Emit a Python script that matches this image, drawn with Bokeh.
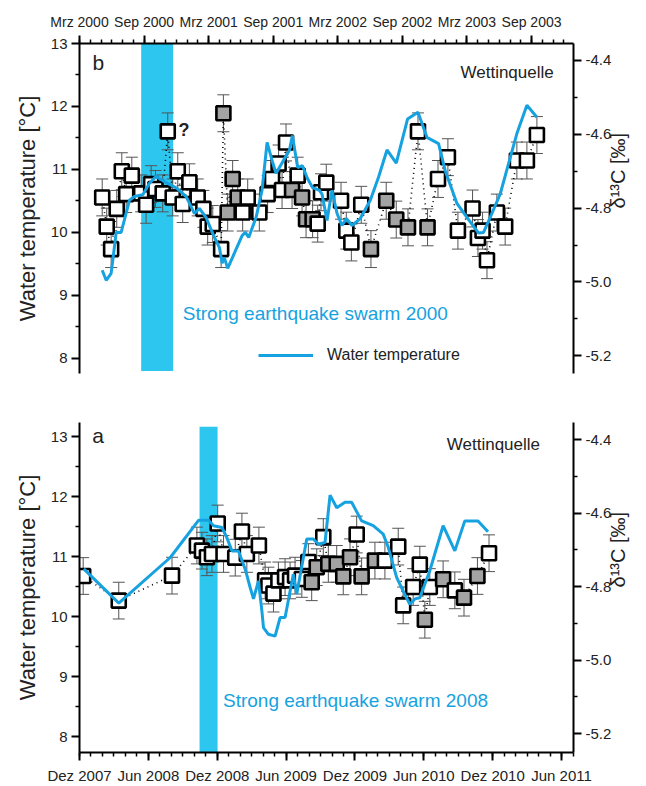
import math
from bokeh.plotting import figure
from bokeh.models import (Range1d, LinearAxis, FixedTicker, BoxAnnotation, Label,
                          Legend, LegendItem, ColumnDataSource, Whisker, TeeHead,
                          NumeralTickFormatter)
from bokeh.layouts import column
from bokeh.embed import file_html
from bokeh.resources import INLINE

FONT = "Liberation Sans"
BLUE = "#16a2e0"
BAR = "#2cc6ef"
GREY_FILL = "#a3a3a3"
ERR_COLOR = "#555555"

# ---------------- Panel b (2000-2003), x = months since 1 Mar 2000 ----------------
b_tick_labels = ["Mrz 2000", "Sep 2000", "Mrz 2001", "Sep 2001",
                 "Mrz 2002", "Sep 2002", "Mrz 2003", "Sep 2003"]
b_temp_month = [2.11, 2.48, 2.94, 3.41, 3.87, 4.64, 5.11, 5.88, 6.50, 7.12,
                8.05, 8.98, 9.91, 10.68, 11.14, 11.76, 12.38, 13.00, 13.25, 13.46,
                13.77, 14.39, 15.11, 15.41, 15.72, 16.41, 16.96, 17.43, 17.95, 18.26,
                18.94, 19.50, 19.78, 20.27, 20.71, 21.17, 21.66, 22.28, 22.53, 23.00,
                23.46, 23.93, 24.39, 24.79, 25.32, 26.09, 27.02, 27.79, 28.57, 29.43,
                30.48, 31.45, 32.28, 33.36, 33.98, 35.07, 36.00, 37.08, 37.54, 38.16,
                39.09, 39.86, 40.64, 41.57, 42.50]
b_temp = [9.40, 9.24, 9.35, 10.00, 10.00, 10.51, 10.57, 10.60, 10.78, 10.89,
          10.79, 10.71, 10.57, 10.30, 10.38, 10.24, 9.98, 9.76, 9.51, 9.60,
          9.43, 9.67, 9.95, 10.00, 9.92, 10.24, 10.67, 11.43, 11.11, 10.94,
          11.14, 11.30, 11.54, 11.03, 11.06, 10.86, 10.71, 10.67, 10.61, 10.19,
          10.67, 10.30, 10.11, 10.22, 10.11, 10.22, 10.51, 10.88, 11.31, 11.10,
          11.80, 11.91, 11.51, 11.41, 10.98, 10.46, 10.24, 9.99, 10.00, 10.24,
          10.61, 11.09, 11.57, 12.02, 11.83]
b_d13c_month = [2.11, 2.53, 2.94, 3.46, 3.93, 4.34, 4.86, 5.73, 6.19, 6.66,
                7.06, 7.73, 8.20, 8.66, 9.13, 9.59, 10.21, 10.98, 11.51, 11.91,
                12.38, 13.16, 13.37, 13.77, 14.23, 14.70, 15.16, 15.63, 16.71, 17.48,
                17.89, 18.50, 18.82, 19.19, 19.75, 20.27, 20.68, 21.05, 21.66, 22.13,
                22.44, 22.93, 24.30, 24.79, 25.26, 26.18, 27.08, 28.50, 29.43, 30.52,
                31.45, 32.34, 33.31, 34.23, 35.16, 36.52, 37.02, 37.45, 37.86, 38.78,
                39.55, 40.64, 41.57, 42.50]
b_d13c = [-4.771, -4.850, -4.911, -4.802, -4.700, -4.762, -4.712, -4.760, -4.791, -4.735,
          -4.748, -4.760, -4.592, -4.771, -4.700, -4.789, -4.730, -4.771, -4.802, -4.850,
          -4.843, -4.911, -4.543, -4.812, -4.721, -4.771, -4.812, -4.771, -4.812, -4.762,
          -4.721, -4.679, -4.751, -4.622, -4.751, -4.712, -4.771, -4.830, -4.830, -4.842,
          -4.757, -4.731, -4.780, -4.861, -4.893, -4.791, -4.911, -4.780, -4.831, -4.852,
          -4.592, -4.852, -4.721, -4.662, -4.861, -4.801, -4.881, -4.861, -4.941, -4.812,
          -4.850, -4.671, -4.671, -4.602]
b_grey = [0, 0, 0, 0, 0, 0, 0, 0, 0, 0,
          0, 0, 0, 0, 0, 0, 0, 0, 0, 0,
          0, 0, 1, 1, 1, 1, 0, 0, 0, 0,
          0, 0, 0, 0, 1, 0, 1, 1, 1, 0,
          0, 0, 0, 0, 0, 0, 1, 1, 1, 1,
          0, 1, 0, 0, 0, 0, 0, 0, 0, 0,
          0, 0, 0, 0]
b_swarm = (5.73, 8.70)

# ---------------- Panel a (2007-2011), x = months since 1 Dec 2007 ----------------
a_tick_labels = ["Dez 2007", "Jun 2008", "Dez 2008", "Jun 2009",
                 "Dez 2009", "Jun 2010", "Dez 2010", "Jun 2011"]
a_temp_month = [0.37, 3.42, 7.91, 10.37, 11.24, 11.68, 12.41, 12.84, 13.28, 13.85,
                14.43, 14.87, 15.16, 15.59, 15.89, 16.03, 16.46, 17.04, 17.48, 17.91,
                18.63, 18.93, 19.80, 20.37, 20.81, 21.39, 21.83, 22.41, 23.13, 23.71,
                24.58, 25.59, 26.46, 26.90, 27.63, 28.20, 28.78, 29.22, 29.65, 30.52,
                31.68, 32.70, 33.57, 34.72, 35.59]
a_temp = [10.80, 10.23, 10.99, 11.61, 11.61, 11.52, 11.49, 11.32, 11.10, 11.10,
          10.80, 10.49, 10.30, 10.60, 10.10, 9.82, 9.71, 9.68, 9.99, 9.99,
          10.71, 10.38, 11.30, 11.30, 11.21, 11.24, 12.03, 11.82, 11.91, 11.91,
          11.60, 11.52, 11.38, 11.16, 10.66, 10.43, 10.21, 10.30, 10.32, 10.77,
          11.52, 11.10, 11.60, 11.60, 11.42]
a_d13c_month = [0.32, 3.42, 8.06, 10.23, 10.67, 11.10, 11.54, 12.04, 12.55, 13.57,
                14.15, 14.58, 15.63, 16.17, 16.46, 16.90, 17.33, 17.91, 18.35, 18.78,
                19.37, 19.94, 20.23, 20.67, 21.24, 21.68, 22.41, 22.98, 23.57, 24.15,
                24.58, 25.74, 26.61, 27.77, 28.20, 29.07, 29.65, 30.09, 30.52, 31.68,
                32.70, 33.50, 34.67, 35.68]
a_d13c = [-4.771, -4.838, -4.770, -4.688, -4.702, -4.720, -4.711, -4.628, -4.711, -4.721,
          -4.650, -4.711, -4.688, -4.783, -4.797, -4.819, -4.783, -4.774, -4.783, -4.770,
          -4.779, -4.733, -4.788, -4.747, -4.665, -4.738, -4.738, -4.772, -4.720, -4.658,
          -4.772, -4.729, -4.729, -4.691, -4.851, -4.801, -4.740, -4.890, -4.801, -4.780,
          -4.810, -4.830, -4.771, -4.709]
a_grey = [0, 0, 0, 0, 0, 0, 0, 0, 0, 0,
          0, 0, 0, 0, 0, 0, 0, 0, 0, 0,
          0, 0, 1, 1, 0, 1, 1, 1, 1, 0,
          1, 1, 0, 0, 0, 0, 0, 1, 0, 1,
          0, 1, 1, 0]
a_swarm = (10.46, 12.03)

d13c_err = 0.05


def style_axis(ax, size="15px"):
    ax.axis_line_width = 2
    ax.axis_line_color = "black"
    ax.major_tick_line_width = 2
    ax.minor_tick_line_width = 1.5
    ax.major_tick_out = 8
    ax.major_tick_in = 0
    ax.minor_tick_out = 4
    ax.minor_tick_in = 0
    ax.major_label_text_font = FONT
    ax.major_label_text_font_size = size
    ax.major_label_text_color = "#222222"
    ax.major_label_standoff = 4
    ax.axis_label_text_font = FONT
    ax.axis_label_text_font_style = "normal"
    ax.axis_label_text_color = "#222222"


def make_panel(height, x_end, y_left, y_right, x_loc, tick_labels, x_label_size,
               temp_m, temp, dm, dv, grey, swarm, swarm_bottom, swarm_top,
               border_top, border_bottom):
    p = figure(width=646, height=height, output_backend="svg", toolbar_location=None,
               x_range=Range1d(0, x_end), y_range=Range1d(*y_left),
               x_axis_location=x_loc, min_border_left=79, min_border_right=73,
               min_border_top=border_top, min_border_bottom=border_bottom)
    p.outline_line_color = None
    p.xgrid.visible = False
    p.ygrid.visible = False
    p.extra_y_ranges = {"d13c": Range1d(*y_right)}

    xa = p.xaxis[0]
    xa.ticker = FixedTicker(ticks=[6 * i for i in range(len(tick_labels))],
                            minor_ticks=list(range(0, int(x_end) + 1)))
    xa.major_label_overrides = {6 * i: t for i, t in enumerate(tick_labels)}
    style_axis(xa, x_label_size)
    xa.major_label_standoff = 6

    ya = p.yaxis[0]
    ya.ticker = FixedTicker(ticks=[8, 9, 10, 11, 12, 13],
                            minor_ticks=[8.5, 9.5, 10.5, 11.5, 12.5])
    ya.axis_label = "Water temperature [°C]"
    style_axis(ya)
    ya.axis_label_text_font_size = "22px"
    ya.axis_label_standoff = 8

    ra = LinearAxis(y_range_name="d13c", axis_label="δ¹³C [‰]")
    ra.ticker = FixedTicker(ticks=[-5.2, -5.0, -4.8, -4.6, -4.4],
                            minor_ticks=[-5.1, -4.9, -4.7, -4.5])
    ra.formatter = NumeralTickFormatter(format="0.0")
    style_axis(ra)
    ra.axis_label_text_font_size = "20px"
    ra.axis_label_orientation = math.pi / 2
    ra.axis_label_standoff = 4
    p.add_layout(ra, "right")

    box = BoxAnnotation(left=swarm[0], right=swarm[1], bottom=swarm_bottom, top=swarm_top,
                        fill_color=BAR, fill_alpha=1.0, line_alpha=0, level="image")
    p.add_layout(box)

    src = ColumnDataSource(dict(
        x=dm, y=dv,
        upper=[v + d13c_err for v in dv], lower=[v - d13c_err for v in dv],
        fill=[GREY_FILL if g else "white" for g in grey]))
    wh = Whisker(base="x", upper="upper", lower="lower", source=src, y_range_name="d13c",
                 line_color=ERR_COLOR, line_width=1,
                 upper_head=TeeHead(size=12, line_color=ERR_COLOR, line_width=1),
                 lower_head=TeeHead(size=12, line_color=ERR_COLOR, line_width=1))
    p.add_layout(wh)
    p.line("x", "y", source=src, y_range_name="d13c", line_color="black",
           line_width=1.6, line_dash="1 4")
    p.scatter("x", "y", source=src, y_range_name="d13c", marker="square", size=14,
              line_color="black", line_width=2.6, fill_color="fill")
    tl = p.line(temp_m, temp, line_color=BLUE, line_width=3)
    return p, tl


top, top_line = make_panel(397, 45.9, (7.76, 13.0), (-5.248, -4.354), "above",
                           b_tick_labels, "14px", b_temp_month, b_temp, b_d13c_month,
                           b_d13c, b_grey, b_swarm, 7.8, None, 43, 24)
bot, _ = make_panel(389, 43.04, (7.74, 13.24), (-5.2516, -4.353), "below",
                    a_tick_labels, "15px", a_temp_month, a_temp, a_d13c_month, a_d13c,
                    a_grey, a_swarm, None, 13.17, 25, 34)


def add_text(p, x, y, text, size, color="#222222", style="normal", baseline="middle"):
    p.add_layout(Label(x=x, y=y, text=text, text_font=FONT, text_font_size=size,
                       text_color=color, text_font_style=style, text_baseline=baseline))


add_text(top, 1.2, 12.7, "b", "21px")
add_text(top, 35.4, 12.54, "Wettinquelle", "17px")
add_text(top, 9.2, 11.62, "?", "18px", style="bold")
add_text(top, 9.6, 8.71, "Strong earthquake swarm 2000", "19px", color=BLUE)

add_text(bot, 1.1, 13.02, "a", "21px")
add_text(bot, 32.0, 12.88, "Wettinquelle", "17px")
add_text(bot, 12.5, 8.6, "Strong earthquake swarm 2008", "19px", color=BLUE)

legend = Legend(items=[LegendItem(label="Water temperature", renderers=[top_line])],
                location=(179, 8), border_line_color=None, background_fill_alpha=0,
                glyph_width=55, glyph_height=20, label_standoff=14, padding=0, margin=0,
                label_text_font=FONT, label_text_font_size="16px",
                label_text_color="#222222")
top.add_layout(legend)

layout = column(top, bot, spacing=0)
open("out.html", "w").write(file_html(layout, INLINE))
